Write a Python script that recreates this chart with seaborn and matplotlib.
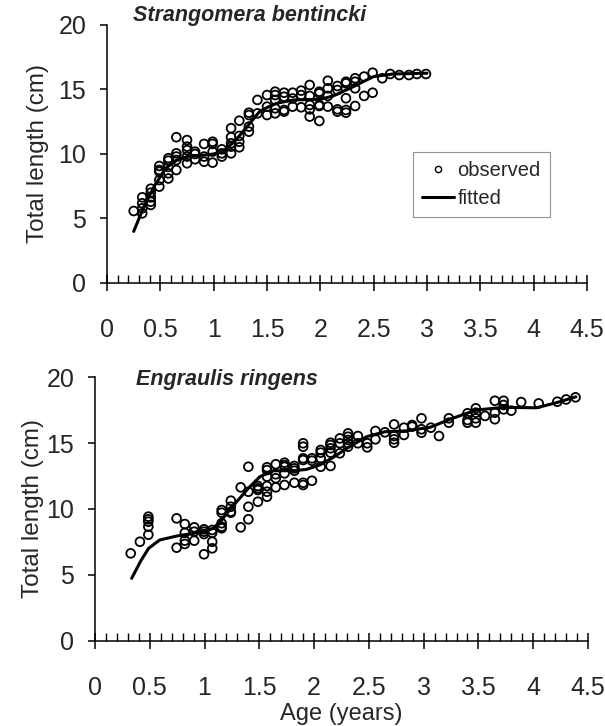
import numpy as np
import pandas as pd
import matplotlib
matplotlib.use("Agg")
import matplotlib.pyplot as plt
from matplotlib.ticker import MultipleLocator
import seaborn as sns

# ---------------- data: Strangomera bentincki ----------------
sb_age = [0.25,
          0.33, 0.33, 0.33, 0.33,
          0.41, 0.41, 0.41, 0.41, 0.41,
          0.49, 0.49, 0.49, 0.49, 0.49,
          0.575, 0.575, 0.575, 0.575, 0.575,
          0.65, 0.65, 0.65, 0.65, 0.65,
          0.75, 0.75, 0.75, 0.75, 0.75,
          0.825, 0.825, 0.825,
          0.91, 0.91, 0.91,
          0.99, 0.99, 0.99, 0.99,
          1.076, 1.076, 1.076,
          1.163, 1.163, 1.163, 1.163, 1.163,
          1.24, 1.24, 1.24, 1.24,
          1.33, 1.33, 1.33, 1.33,
          1.41, 1.41,
          1.50, 1.50, 1.50,
          1.576, 1.576, 1.576, 1.576, 1.576,
          1.66, 1.66, 1.66, 1.66,
          1.74, 1.74, 1.74,
          1.82, 1.82, 1.82,
          1.90, 1.90, 1.90, 1.90, 1.90,
          1.99, 1.99, 1.99, 1.99, 1.99,
          2.07, 2.07, 2.07, 2.07,
          2.16, 2.16, 2.16, 2.16,
          2.24, 2.24, 2.24, 2.24, 2.24,
          2.326, 2.326, 2.326, 2.326,
          2.41, 2.41,
          2.49, 2.49,
          2.58, 2.655, 2.74, 2.83, 2.905, 2.99]
sb_len = [5.58,
          6.64, 6.18, 5.79, 5.40,
          7.31, 7.0, 6.64, 6.3, 6.05,
          9.07, 8.76, 8.63, 7.98, 7.47,
          9.67, 9.48, 9.0, 8.5, 8.1,
          11.3, 10.05, 9.8, 9.53, 8.76,
          11.08, 10.57, 10.3, 9.8, 9.28,
          10.18, 10.0, 9.59,
          10.78, 9.8, 9.4,
          10.95, 10.78, 10.18, 9.33,
          10.36, 10.05, 9.8,
          12.0, 11.3, 10.83, 10.57, 10.05,
          12.58, 11.4, 10.95, 10.52,
          13.2, 13.02, 12.12, 11.73,
          14.19, 13.15,
          14.57, 13.67, 13.02,
          14.83, 14.57, 14.19, 13.54, 13.15,
          14.75, 14.44, 13.41, 13.28,
          14.75, 14.3, 13.67,
          14.91, 14.57, 13.62,
          15.35, 14.5, 13.8, 13.46, 12.9,
          14.83, 14.7, 13.8, 13.72, 12.56,
          15.68, 15.09, 14.5, 13.67,
          15.27, 14.96, 13.46, 13.28,
          15.6, 15.48, 14.32, 13.41, 13.2,
          15.87, 15.6, 15.09, 13.72,
          16.0, 14.5,
          16.3, 14.75,
          15.87, 16.2, 16.12, 16.12, 16.2, 16.2]
sb_fit_age = [0.25, 0.35, 0.45, 0.55, 0.65, 0.75, 0.9, 1.0, 1.1, 1.2, 1.3,
              1.43, 1.5, 1.59, 1.75, 2.0, 2.12, 2.2, 2.31, 2.4, 2.5, 2.68, 3.0]
sb_fit_len = [4.0, 6.0, 7.6, 8.9, 9.5, 9.8, 9.9, 10.0, 10.3, 11.0, 12.0,
              13.28, 13.6, 13.93, 14.19, 14.24, 14.5, 14.8, 15.22, 15.6, 16.0, 16.2, 16.26]

# ---------------- data: Engraulis ringens ----------------
er_age = [0.326, 0.41,
          0.487, 0.487, 0.487, 0.487, 0.487,
          0.745, 0.745,
          0.82, 0.82, 0.82, 0.82,
          0.906, 0.906, 0.906,
          0.995, 0.995, 0.995, 0.995,
          1.07, 1.07, 1.07, 1.07,
          1.156, 1.156, 1.156, 1.156, 1.156,
          1.24, 1.24, 1.24, 1.24,
          1.33, 1.33,
          1.40, 1.40, 1.40, 1.40,
          1.487, 1.487, 1.487, 1.487,
          1.57, 1.57, 1.57, 1.57, 1.57, 1.57,
          1.65, 1.65, 1.65, 1.65,
          1.73, 1.73, 1.73, 1.73, 1.73,
          1.82, 1.82, 1.82, 1.82,
          1.90, 1.90, 1.90, 1.90, 1.90, 1.90,
          1.98, 1.98, 1.98,
          2.06, 2.06, 2.06, 2.06,
          2.15, 2.15, 2.15, 2.15, 2.15,
          2.235, 2.235, 2.235,
          2.31, 2.31, 2.31, 2.31, 2.31,
          2.40, 2.40,
          2.485, 2.485,
          2.56, 2.56,
          2.646,
          2.73, 2.73, 2.73, 2.73,
          2.82, 2.82,
          2.895, 2.895,
          2.98, 2.98, 2.98,
          3.066, 3.14,
          3.23, 3.23,
          3.40, 3.40, 3.40,
          3.476, 3.476, 3.476, 3.476,
          3.56,
          3.65, 3.65, 3.65,
          3.73, 3.73, 3.73,
          3.80, 3.89, 4.05, 4.22, 4.30, 4.386]
er_len = [6.64, 7.52,
          9.42, 9.22, 9.04, 8.66, 8.05,
          9.29, 7.07,
          8.86, 8.2, 7.6, 7.35,
          8.61, 8.28, 7.6,
          8.46, 8.28, 8.1, 6.57,
          8.41, 8.2, 7.52, 7.02,
          9.92, 9.72, 8.92, 8.66, 8.54,
          10.63, 10.17, 9.8, 9.72,
          11.64, 8.61,
          13.2, 11.31, 10.17, 9.22,
          11.74, 11.57, 11.44, 10.55,
          13.16, 12.95, 12.45, 11.74, 11.31, 10.93,
          13.39, 12.63, 12.33, 11.64,
          13.51, 13.33, 13.2, 12.7, 11.82,
          13.26, 13.08, 12.9, 11.99,
          14.98, 14.72, 13.84, 13.71, 11.99, 11.82,
          13.84, 13.66, 12.14,
          14.47, 14.27, 13.84, 13.2,
          15.02, 14.85, 14.6, 14.27, 13.26,
          15.35, 14.98, 14.22,
          15.73, 15.48, 15.23, 14.98, 14.72,
          15.53, 14.98,
          14.98, 14.67,
          15.91, 15.28,
          15.81,
          16.41, 15.53, 15.28, 15.02,
          16.16, 15.61,
          16.36, 16.24,
          16.87, 16.04, 15.78,
          16.16, 15.53,
          16.87, 16.54,
          17.25, 16.74, 16.54,
          17.63, 17.3, 16.87, 16.54,
          17.05,
          18.2, 17.3, 16.8,
          18.2, 17.88, 17.55,
          17.45, 18.1, 18.0, 18.13, 18.3, 18.46]
er_fit_age = [0.335, 0.42, 0.49, 0.59, 0.745, 0.995, 1.08, 1.16, 1.24, 1.32, 1.40,
              1.505, 1.63, 1.81, 1.93, 2.05, 2.17, 2.31, 2.48, 2.65, 2.82, 3.06,
              3.24, 3.48, 3.73, 4.03, 4.21, 4.39]
er_fit_len = [4.75, 6.1, 7.02, 7.65, 7.95, 8.28, 8.54, 9.2, 10.05, 10.8, 11.57,
              12.45, 12.9, 12.9, 13.0, 13.33, 13.89, 14.65, 15.48, 15.86, 15.9, 16.19,
              16.8, 17.5, 17.7, 17.67, 18.05, 18.5]

x_ticks = [0, 0.5, 1, 1.5, 2, 2.5, 3, 3.5, 4, 4.5]
x_tick_labels = ["0", "0.5", "1", "1.5", "2", "2.5", "3", "3.5", "4", "4.5"]
y_ticks = [0, 5, 10, 15, 20]

sns.set_style("ticks")
plt.rcParams['font.family'] = ['Liberation Sans', 'DejaVu Sans']
plt.rcParams['font.size'] = 16

fig = plt.figure(figsize=(6.05, 7.26), dpi=100)
ax1 = fig.add_axes([0.1769, 0.6102, 0.7934, 0.3554])
ax2 = fig.add_axes([0.157, 0.1171, 0.8149, 0.3636])

obs_df1 = pd.DataFrame({"age": sb_age, "length": sb_len})
fit_df1 = pd.DataFrame({"age": sb_fit_age, "length": sb_fit_len})
obs_df2 = pd.DataFrame({"age": er_age, "length": er_len})
fit_df2 = pd.DataFrame({"age": er_fit_age, "length": er_fit_len})

for ax, obs, fit in [(ax1, obs_df1, fit_df1), (ax2, obs_df2, fit_df2)]:
    sns.scatterplot(data=obs, x="age", y="length", ax=ax, marker="o", s=40,
                    facecolor="none", edgecolor="black", linewidth=1.3,
                    label="observed", zorder=3)
    sns.lineplot(data=fit, x="age", y="length", ax=ax, color="black",
                 linewidth=2.2, label="fitted", zorder=4, sort=True)
    ax.set_xlim(0, 4.5)
    ax.set_ylim(0, 20)
    ax.set_xticks(x_ticks)
    ax.set_xticklabels(x_tick_labels)
    ax.xaxis.set_minor_locator(MultipleLocator(0.1))
    ax.set_yticks(y_ticks)
    ax.tick_params(axis="x", which="major", direction="inout", length=11,
                   width=1.1, pad=20, labelsize=18, color="black")
    ax.tick_params(axis="x", which="minor", direction="in", length=6,
                   width=1.0, color="black")
    ax.tick_params(axis="y", which="major", direction="out", length=5,
                   width=1.1, pad=10, labelsize=18, color="black")
    for s in ["top", "right"]:
        ax.spines[s].set_visible(False)
    for s in ["left", "bottom"]:
        ax.spines[s].set_linewidth(1.1)
        ax.spines[s].set_color("black")
    ax.set_ylabel("Total length (cm)", fontsize=17.5)
    ax.set_xlabel("")

ax1.yaxis.set_label_coords(-0.12, 0.5)
ax2.yaxis.set_label_coords(-0.104, 0.5)

ax1.get_legend().remove()
ax2.get_legend().remove()

handles = [plt.Line2D([], [], marker="o", linestyle="none", markersize=4.5,
                      markerfacecolor="none", markeredgecolor="black", markeredgewidth=1.0),
           plt.Line2D([], [], color="black", linewidth=2.2)]
leg = ax1.legend(handles, ["observed", "fitted"], loc="upper left",
                 bbox_to_anchor=(413 / 605, 1 - 152 / 726), bbox_transform=fig.transFigure,
                 frameon=True, fancybox=False, fontsize=14.5, handlelength=1.6,
                 handletextpad=0.15, borderpad=0.45, labelspacing=0.45, borderaxespad=0)
leg.get_frame().set_edgecolor("#777777")
leg.get_frame().set_linewidth(0.8)

ax2.set_xlabel("Age (years)", fontsize=17, labelpad=2)

fig.text(250 / 605, 1 - 16 / 726, "Strangomera bentincki", ha="center", va="center",
         fontsize=15.5, fontweight="bold", style="italic")
fig.text(227 / 605, 1 - 380 / 726, "Engraulis ringens", ha="center", va="center",
         fontsize=15.5, fontweight="bold", style="italic")

fig.savefig("out.png", dpi=100)
